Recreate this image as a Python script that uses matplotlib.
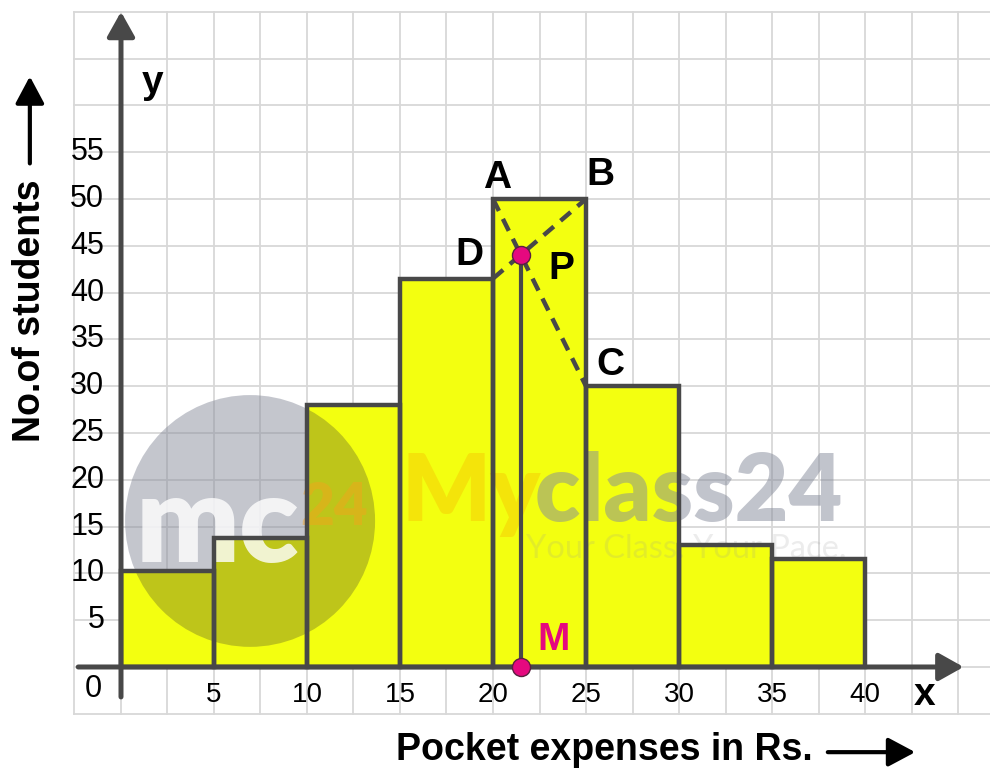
import matplotlib
matplotlib.use("Agg")
import matplotlib.pyplot as plt
from matplotlib.patches import Ellipse

# class intervals (pocket expenses in Rs.) and number of students
class_starts = [0, 5, 10, 15, 20, 25, 30, 35]
class_width = 5
students = [10.3, 13.8, 28, 41.5, 50, 30, 13, 11.5]
x_ticks = [5, 10, 15, 20, 25, 30, 35, 40]
y_ticks = [5, 10, 15, 20, 25, 30, 35, 40, 45, 50, 55]

plt.rcParams['font.family'] = ['Liberation Sans', 'DejaVu Sans']

dark = '#484848'
yellow = '#f3ff10'
pink = '#e5097f'

fig = plt.figure(figsize=(9.9, 7.72), dpi=100)
ax = fig.add_axes([0, 0, 1, 1])
ax.set_xlim(-6.505, 46.72)
ax.set_ylim(-11.22, 71.26)
ax.axis('off')

# graph paper
for gx in range(-5, 91, 5):
    ax.plot([gx / 2, gx / 2], [-5, 70], color='#d8d8d8', lw=1.3, zorder=0)
for gy in range(-5, 71, 5):
    ax.plot([-2.5, 46.72], [gy, gy], color='#d8d8d8', lw=1.3, zorder=0)

# histogram
bars = ax.bar(class_starts, students, width=class_width, align='edge',
              color=yellow, edgecolor='none', zorder=2)

# watermark circle (gray over paper, olive over the bars)
cx, cy = 6.94, 15.6
ax.add_patch(Ellipse((cx, cy), 13.44, 26.9, color=(0.54, 0.555, 0.615),
                     alpha=0.5, lw=0, zorder=1.5))
for b in bars:
    e = Ellipse((cx, cy), 13.44, 26.9, color='#bec51a', lw=0, zorder=2.5)
    ax.add_patch(e)
    e.set_clip_path(b)

ax.text(cx - 1.75, cy - 4.4, 'mc', fontsize=88, fontweight='heavy', family='Lato',
        color='white', alpha=0.8, ha='center', va='baseline', zorder=3)
ax.text(cx + 4.5, cy - 0.4, '24', fontsize=42, fontweight='heavy', family='Lato',
        color='#f7a21b', alpha=0.45, ha='center', va='baseline', zorder=3)
ax.text(15.1, 15.6, 'My', fontsize=67, fontweight='heavy', family='Lato',
        color='#f6b400', alpha=0.35, ha='left', va='baseline', zorder=3)
ax.text(22.25, 15.6, 'class24', fontsize=67, fontweight='heavy', family='Lato',
        color='#858a9a', alpha=0.5, ha='left', va='baseline', zorder=3)
ax.text(21.8, 12.6, 'Your Class. Your Pace.', fontsize=23.5, family='Lato',
        color='#9a9a9a', alpha=0.18, ha='left', va='center', zorder=3)

# bar outlines on top
ax.bar(class_starts, students, width=class_width, align='edge',
       fill=False, edgecolor=dark, linewidth=3.2, zorder=4)

# axes with arrows
ax_arrow = dict(arrowstyle='-|>,head_length=0.5,head_width=0.28',
                color=dark, lw=3.6, mutation_scale=30, shrinkA=0, shrinkB=0)
ax.annotate('', xy=(0, 70.0), xytext=(0, -3.2), arrowprops=ax_arrow, zorder=5)
ax.annotate('', xy=(45.3, 0), xytext=(-2.3, 0), arrowprops=ax_arrow, zorder=5)

# mode construction: A, B, C, D and intersection P
i_mode = students.index(max(students))
xa = class_starts[i_mode]
xb = xa + class_width
ya = students[i_mode]
yd = students[i_mode - 1]
yc = students[i_mode + 1]
ax.plot([xa, xb], [ya, yc], color=dark, lw=3.2, ls=(0, (3, 2)), zorder=5)
ax.plot([xa, xb], [yd, ya], color=dark, lw=3.2, ls=(0, (3, 2)), zorder=5)
s1 = (yc - ya) / class_width
s2 = (ya - yd) / class_width
px = xa + (yd - ya) / (s1 - s2)
py = ya + s1 * (px - xa)
ax.plot([px, px], [0, py], color=dark, lw=3, zorder=5)
ax.plot([px, px], [py, 0], ls='none', marker='o', ms=13, mfc=pink,
        mec='#5a2040', mew=1, zorder=6)

lab = dict(fontsize=28, fontweight='bold', color='black', ha='center', va='center', zorder=7)
ax.text(xa + 0.2, ya + 2.2, 'A', **lab)
ax.text(xb + 0.75, ya + 2.6, 'B', **lab)
ax.text(xb + 1.3, yc + 2.3, 'C', **lab)
ax.text(xa - 1.25, yd + 2.5, 'D', **lab)
ax.text(px + 2.2, py - 1.5, 'P', **lab)
ax.text(px + 1.75, 2.9, 'M', fontsize=28, fontweight='bold', color=pink,
        ha='center', va='center', zorder=7)
ax.text(1.67, 62.4, 'y', **lab)
ax.text(43.2, -3.0, 'x', **lab)

# tick labels
for t in y_ticks:
    ax.text(-0.9, t, str(t), fontsize=22, ha='right', va='center', zorder=7)
for t in x_ticks:
    ax.text(t, -3.0, str(t), fontsize=20, ha='center', va='center', zorder=7)
ax.text(-1.5, -2.4, '0', fontsize=22, ha='center', va='center', zorder=7)

# axis titles with arrows
title_arrow = dict(arrowstyle='-|>,head_length=0.75,head_width=0.4',
                   color='black', lw=3, mutation_scale=22, shrinkA=0, shrinkB=0)
ax.text(-4.9, 38.1, 'No.of students', fontsize=27, fontweight='bold',
        rotation=90, ha='center', va='center')
ax.annotate('', xy=(-4.9, 63.1), xytext=(-4.9, 53.8), arrowprops=title_arrow)
ax.text(26.0, -8.9, 'Pocket expenses in Rs.', fontsize=27, fontweight='bold',
        ha='center', va='center')
ax.annotate('', xy=(42.7, -9.1), xytext=(38.0, -9.1), arrowprops=title_arrow)

fig.savefig('out.png', dpi=100)
